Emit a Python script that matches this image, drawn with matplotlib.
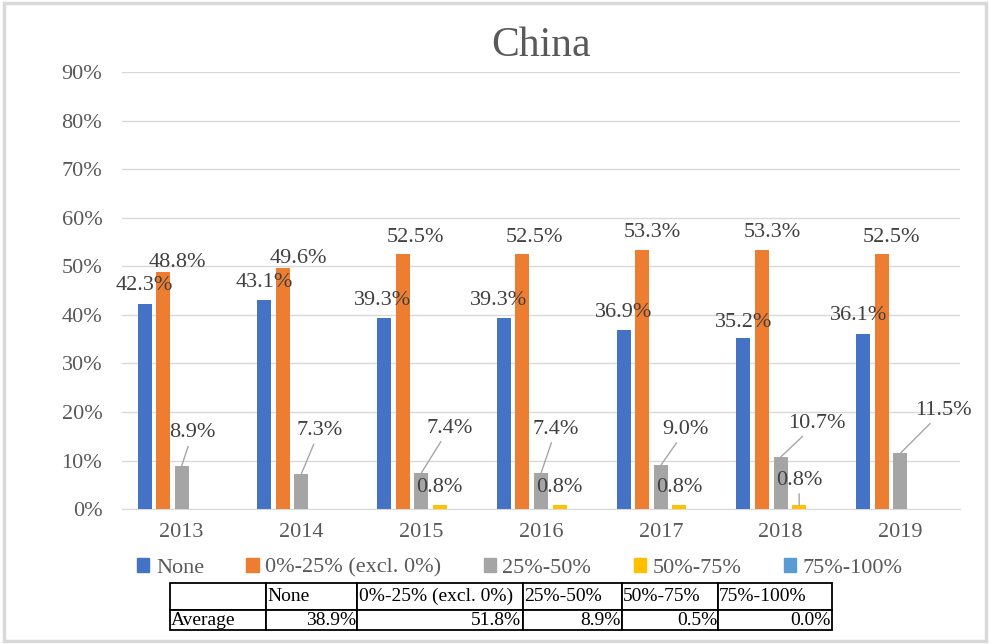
import matplotlib.pyplot as plt
import numpy as np
from matplotlib.patches import Rectangle

years = ["2013", "2014", "2015", "2016", "2017", "2018", "2019"]
series_names = ["None", "0%-25% (excl. 0%)", "25%-50%", "50%-75%", "75%-100%"]
none_vals = [42.3, 43.1, 39.3, 39.3, 36.9, 35.2, 36.1]
low_vals = [48.8, 49.6, 52.5, 52.5, 53.3, 53.3, 52.5]
mid_vals = [8.9, 7.3, 7.4, 7.4, 9.0, 10.7, 11.5]
high_vals = [0.0, 0.0, 0.8, 0.8, 0.8, 0.8, 0.0]
top_vals = [0.0, 0.0, 0.0, 0.0, 0.0, 0.0, 0.0]
avg_vals = ["38.9%", "51.8%", "8.9%", "0.5%", "0.0%"]

colors = ["#4472C4", "#ED7D31", "#A5A5A5", "#FFC000", "#5B9BD5"]
text_col = "#595959"
label_col = "#404040"
serif = ["Liberation Serif", "DejaVu Serif"]
plt.rcParams["font.family"] = serif

# label offsets in pixels (dx, dy up), tuned by eye against the original
none_offsets = [(0, 18), (0, 17), (-2, 18), (-5, 18), (0, 17), (0, 16), (-5, 18)]
low_offsets = [(14, 10), (15, 10), (13, 17), (12, 17), (10, 18), (10, 18), (10, 17)]
mid_offsets = [(11, 33), (18, 43), (28, 45), (15, 44), (25, 36), (36, 34), (43, 43)]
px = 0.72  # pixels -> points at dpi 100

fig = plt.figure(figsize=(9.9, 6.44), dpi=100)
ax = fig.add_axes([0.123, 0.2096, 0.847, 0.678])

x = np.arange(len(years))
width = 0.117
step = 0.155
all_vals = [none_vals, low_vals, mid_vals, high_vals, top_vals]
for i, vals in enumerate(all_vals):
    ax.bar(x + (i - 2) * step, np.array(vals) / 100, width,
           color=colors[i], label=series_names[i], zorder=3)

ax.set_ylim(0, 0.9)
ax.set_xlim(-0.5, len(years) - 0.5)
yt = np.arange(0, 0.91, 0.1)
ax.set_yticks(yt)
ax.set_yticklabels([f"{int(round(t * 100))}%" for t in yt])
ax.set_xticks(x)
ax.set_xticklabels(years)
ax.tick_params(axis="both", length=0, labelsize=16, colors=text_col)
ax.tick_params(axis="x", pad=10)
ax.tick_params(axis="y", pad=14)
ax.grid(axis="y", color="#D9D9D9", lw=1, zorder=0)
for s in ["top", "right", "left"]:
    ax.spines[s].set_visible(False)
ax.spines["bottom"].set_color("#D9D9D9")
ax.set_title("China", fontsize=30, color=text_col, pad=12)

lab_kw = dict(textcoords="offset points", ha="center", va="center",
              fontsize=16, color=label_col, zorder=5)
leader = dict(arrowstyle="-", color="#A6A6A6", lw=1, shrinkA=1, shrinkB=0)
for j in range(len(years)):
    dx, dy = none_offsets[j]
    ax.annotate(f"{none_vals[j]:.1f}%", (x[j] - 2 * step, none_vals[j] / 100),
                xytext=(dx * px, dy * px), **lab_kw)
    dx, dy = low_offsets[j]
    ax.annotate(f"{low_vals[j]:.1f}%", (x[j] - step, low_vals[j] / 100),
                xytext=(dx * px, dy * px), **lab_kw)
    dx, dy = mid_offsets[j]
    ax.annotate(f"{mid_vals[j]:.1f}%", (x[j], mid_vals[j] / 100),
                xytext=(dx * px, dy * px), arrowprops=leader, **lab_kw)
    if high_vals[j] > 0:
        dyy = 25 if j == 5 else 18
        ax.annotate(f"{high_vals[j]:.1f}%", (x[j] + step, high_vals[j] / 100),
                    xytext=(0, dyy * px),
                    arrowprops=leader if j == 5 else None, **lab_kw)

handles = [Rectangle((0, 0), 1, 1, color=c) for c in colors]
fig.legend(handles, series_names, loc="center", bbox_to_anchor=(0.525, 0.118),
           ncol=5, frameon=False, fontsize=16, handlelength=0.55,
           handleheight=0.55, handletextpad=0.3, columnspacing=1.9,
           labelcolor=text_col)

# summary table under the chart
tax = fig.add_axes([0.1717, 0.0217, 0.6687, 0.073])
tax.axis("off")
col_px = [96, 91, 166, 99, 96, 114]
cells = [[""] + series_names, ["Average"] + avg_vals]
tbl = tax.table(cellText=cells, colWidths=[c / sum(col_px) for c in col_px],
                bbox=[0, 0, 1, 1], cellLoc="left")
tbl.auto_set_font_size(False)
for (r, c), cell in tbl.get_celld().items():
    cell.set_edgecolor("black")
    cell.set_linewidth(1.3)
    cell.set_height(27 if r == 0 else 20)
    cell.PAD = 0.01
    t = cell.get_text()
    t.set_fontsize(14)
    t.set_color("black")
    t.set_family(serif)
    if r == 1 and c > 0:
        cell._loc = "right"
        t.set_ha("right")

fig.patches.append(Rectangle((0.004, 0.005), 0.992, 0.99, transform=fig.transFigure,
                             fill=False, edgecolor="#D9D9D9", lw=2.5))

fig.savefig("out.png", dpi=100)
